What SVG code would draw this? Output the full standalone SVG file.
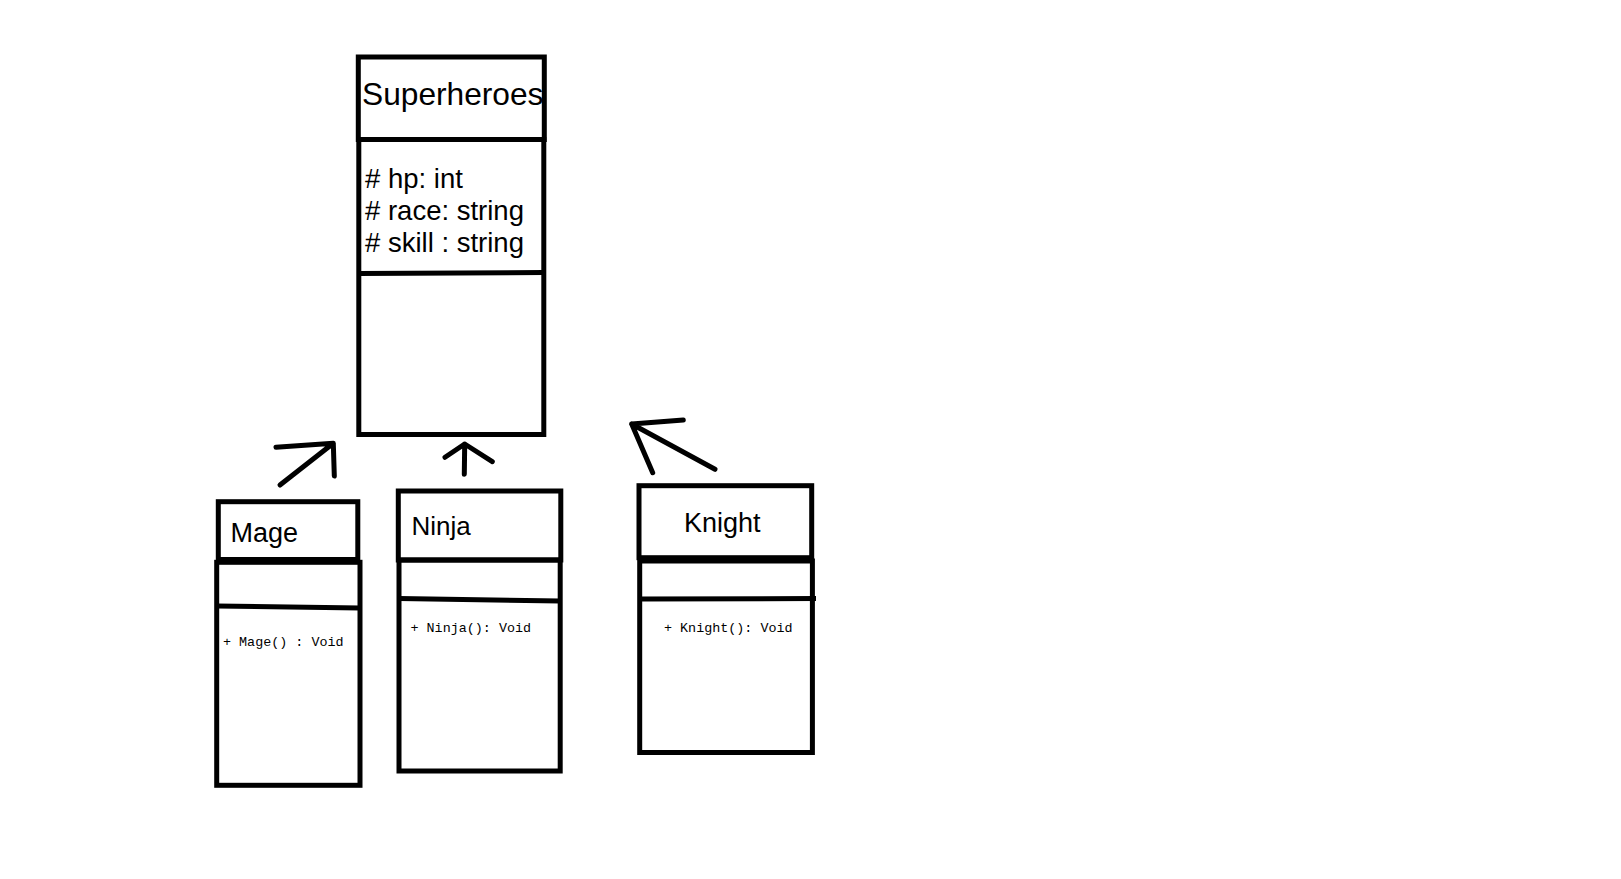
<svg xmlns="http://www.w3.org/2000/svg" width="1621" height="879" viewBox="0 0 1621 879">
<style>
.box{fill:none;stroke:#000;stroke-width:5}
.ln{fill:none;stroke:#000;stroke-width:5;stroke-linecap:round;stroke-linejoin:round}
.t{font-family:"Liberation Sans",Arial,sans-serif;fill:#000}
.m{font-family:"Liberation Mono","DejaVu Sans Mono",monospace;font-size:13.4px;fill:#000}
</style>
<rect width="1621" height="879" fill="#fff"/>
<g id="superheroes">
<rect class="box" x="358.3" y="57" width="186" height="82.5"/>
<rect class="box" x="358.8" y="139.5" width="185" height="295"/>
<line class="box" x1="358.8" y1="273.5" x2="543.8" y2="272.5"/>
<text class="t" x="362" y="105" font-size="31.7">Superheroes</text>
<text class="t" x="365" y="187.5" font-size="27.5">
<tspan x="365" y="187.5"># hp: int</tspan>
<tspan x="365" y="219.5"># race: string</tspan>
<tspan x="365" y="251.5"># skill : string</tspan>
</text>
</g>
<g id="mage">
<rect class="box" x="218.3" y="501.7" width="139.5" height="57.8"/>
<rect class="box" x="216.7" y="562.3" width="143.3" height="223"/>
<line class="box" x1="216.7" y1="606" x2="360" y2="608"/>
<text class="t" x="230.5" y="541.7" font-size="27">Mage</text>
<text class="m" x="223" y="646">+ Mage() : Void</text>
</g>
<g id="ninja">
<rect class="box" x="398.3" y="491" width="162.5" height="69"/>
<rect class="box" x="399" y="560" width="161.2" height="211"/>
<line class="box" x1="399" y1="598.5" x2="560.2" y2="601"/>
<text class="t" x="411.5" y="535" font-size="26">Ninja</text>
<text class="m" x="410.5" y="631.7">+ Ninja(): Void</text>
</g>
<g id="knight">
<rect class="box" x="639" y="485.7" width="172.7" height="72"/>
<rect class="box" x="639.7" y="561" width="172.7" height="191.5"/>
<line class="box" x1="639.7" y1="599" x2="816" y2="598.5"/>
<text class="t" x="684" y="531.7" font-size="27">Knight</text>
<text class="m" x="664" y="632.3">+ Knight(): Void</text>
</g>
<g id="connectors">
<path class="ln" d="M280,485 L333.3,443.3 M276,447.3 L333.3,443.3 L334.3,476"/>
<path class="ln" d="M464.3,474.3 L464.7,444 M445,457.3 L464.7,444 L492.3,461.7"/>
<path class="ln" d="M715,469.3 L631.7,424 M683.3,420 L631.7,424 L652.7,472.7"/>
</g>
</svg>
